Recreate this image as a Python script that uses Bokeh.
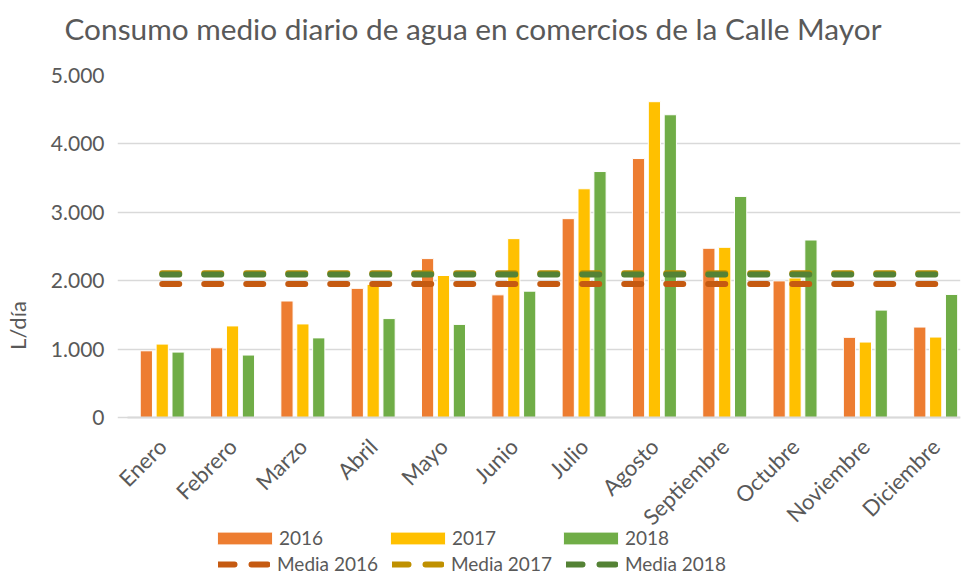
from bokeh.plotting import figure
from bokeh.models import (ColumnDataSource, FixedTicker, Legend, LegendItem)
from bokeh.layouts import column
from bokeh.transform import dodge
from bokeh.embed import file_html
from bokeh.resources import INLINE
import math

# ---------------- data ----------------
titulo = "Consumo medio diario de agua en comercios de la Calle Mayor"
meses = ["Enero", "Febrero", "Marzo", "Abril", "Mayo", "Junio", "Julio",
         "Agosto", "Septiembre", "Octubre", "Noviembre", "Diciembre"]
consumo_2016 = [975, 1019, 1703, 1888, 2323, 1793, 2907, 3786, 2474, 1997, 1172, 1322]
consumo_2017 = [1073, 1339, 1368, 1946, 2076, 2615, 3344, 4617, 2488, 2040, 1103, 1176]
consumo_2018 = [956, 913, 1164, 1446, 1361, 1847, 3596, 4426, 3232, 2595, 1570, 1799]
media_2016 = 1950
media_2017 = 2110
media_2018 = 2090
y_ticks = [0, 1000, 2000, 3000, 4000, 5000]
y_tick_labels = ["0", "1.000", "2.000", "3.000", "4.000", "5.000"]
series_names = ["2016", "2017", "2018"]
media_names = ["Media 2016", "Media 2017", "Media 2018"]

# ---------------- styles ----------------
FONT = "Lato"
TXT = "#595959"
GRID = "#D9D9D9"
BAR_COLORS = ["#ED7D31", "#FFC000", "#70AD47"]
MEAN_COLORS = ["#C55A11", "#BF9000", "#548235"]
DASH = "17 25"
LEFT = 112

# ---------------- title strip ----------------
tp = figure(width=962, height=52, output_backend="svg", toolbar_location=None,
            x_axis_type=None, y_axis_type=None, x_range=(0, 1), y_range=(0, 1),
            min_border_left=LEFT, min_border_right=2, min_border_top=48,
            min_border_bottom=0)
tp.outline_line_color = None
tp.xgrid.grid_line_color = None
tp.ygrid.grid_line_color = None
tp.title.text = titulo
tp.title.text_font = FONT
tp.title.text_font_size = "29.8px"
tp.title.text_font_style = "normal"
tp.title.text_color = TXT
tp.title.align = "left"
tp.title.offset = -53
tp.title.standoff = 6

# ---------------- main chart (frame runs down to the legend) ----------------
pos = list(range(1, len(meses) + 1))
src = ColumnDataSource(dict(x=pos, a=consumo_2016, b=consumo_2017, c=consumo_2018))

p = figure(width=962, height=523, output_backend="svg", toolbar_location=None,
           x_range=(0.3638, 12.353), y_range=(-2310, 5000),
           min_border_left=LEFT, min_border_right=2, min_border_top=23,
           min_border_bottom=0)
p.outline_line_color = None
p.background_fill_color = "white"
p.border_fill_color = "white"

off = 0.226
bw = 0.174
bars = []
for col_name, dx, colr in zip(["a", "b", "c"], [-off, 0, off], BAR_COLORS):
    bars.append(p.vbar(x=dodge("x", dx, range=p.x_range), top=col_name, bottom=0,
                       width=bw, source=src, fill_color=colr, line_color="white",
                       line_width=1))

lx = [pos[0], pos[-1]]
for m, colr in zip([media_2016, media_2017, media_2018], MEAN_COLORS):
    p.line(lx, [m, m], line_color=colr, line_width=6, line_dash=DASH, line_cap="round")

# x axis drawn at y = 0
p.xaxis.fixed_location = 0
p.xaxis.bounds = (0.5052, 12.353)
p.xaxis.ticker = FixedTicker(ticks=pos)
p.xaxis.major_label_overrides = {x: m for x, m in zip(pos, meses)}
p.xaxis.major_label_orientation = math.pi / 4
p.xaxis.major_label_text_font = FONT
p.xaxis.major_label_text_font_size = "22px"
p.xaxis.major_label_text_color = TXT
p.xaxis.major_tick_line_color = None
p.xaxis.minor_tick_line_color = None
p.xaxis.major_tick_out = 0
p.xaxis.minor_tick_out = 0
p.xaxis.axis_line_color = GRID
p.xaxis.axis_line_width = 2
p.xaxis.major_label_standoff = 25

p.yaxis.bounds = (y_ticks[0], y_ticks[-1])
p.yaxis.ticker = FixedTicker(ticks=y_ticks)
p.yaxis.major_label_overrides = {t: l for t, l in zip(y_ticks, y_tick_labels)}
p.yaxis.major_label_text_font = FONT
p.yaxis.major_label_text_font_size = "21px"
p.yaxis.major_label_text_color = TXT
p.yaxis.major_tick_line_color = None
p.yaxis.minor_tick_line_color = None
p.yaxis.major_tick_out = 0
p.yaxis.minor_tick_out = 0
p.yaxis.axis_line_color = None
p.yaxis.major_label_standoff = 13
p.yaxis.axis_label = "L/día"
p.yaxis.axis_label_text_font = FONT
p.yaxis.axis_label_text_font_size = "22px"
p.yaxis.axis_label_text_font_style = "normal"
p.yaxis.axis_label_text_color = TXT
p.yaxis.axis_label_standoff = 17

p.xgrid.grid_line_color = None
p.ygrid.grid_line_color = GRID
p.ygrid.grid_line_width = 1.5

# legend proxies for the mean lines (one hidden mark each, outside the view)
line_proxies = [p.line(x=[-5, -4], y=[-5000, -5000], line_color=c, line_width=6,
                       line_dash="16 17", line_cap="round") for c in MEAN_COLORS]


def make_legend(names, rends, vx, vy, gw, gh, standoff, spacing, lh):
    lg = Legend(items=[LegendItem(label=n, renderers=[r]) for n, r in zip(names, rends)],
                location=(vx, vy), orientation="horizontal",
                padding=0, margin=0, spacing=spacing,
                glyph_width=gw, glyph_height=gh, label_standoff=standoff,
                label_width=100, label_height=lh,
                label_text_font=FONT, label_text_font_size="19px",
                label_text_color=TXT, border_line_color=None,
                background_fill_alpha=0)
    p.add_layout(lg, "center")


colw = 173
make_legend(series_names, bars, 205 - LEFT, 26, 69, 16, 0, colw - 69 - 0 - 100, 16)
make_legend(media_names, line_proxies, 213 - LEFT, 0, 52, 22, 7, colw - 52 - 7 - 100, 22)

open("out.html", "w").write(file_html(column(tp, p, spacing=0), INLINE))
